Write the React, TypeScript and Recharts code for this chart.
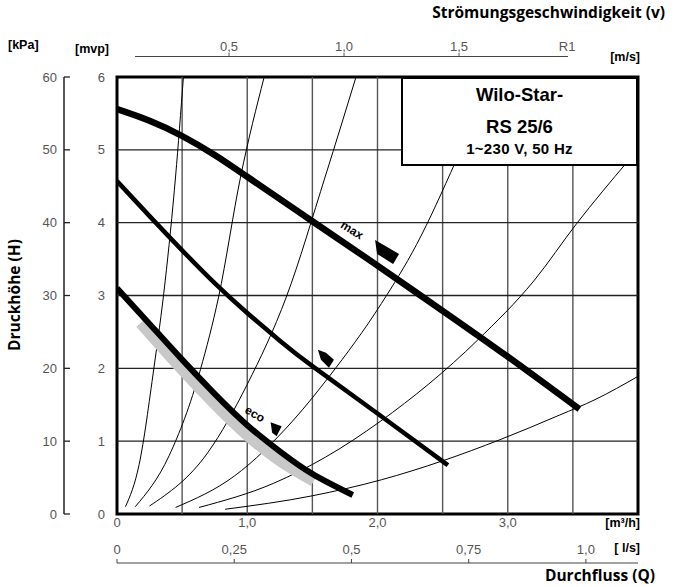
import React from "react";
import { ComposedChart, Line, Scatter, XAxis, YAxis, ReferenceLine, ReferenceArea } from "recharts";

// axes (Q in m³/h, H in mvp)
const Q_TICKS = [0, 1, 2, 3];
const Q_LABELS = ["0", "1,0", "2,0", "3,0"];
const LS_TICKS = [0, 0.25, 0.5, 0.75, 1.0];
const LS_LABELS = ["0", "0,25", "0,5", "0,75", "1,0"];
const V_TICKS = [0.5, 1.0, 1.5, 1.97];
const V_LABELS = ["0,5", "1,0", "1,5", "R1"];
const MVP_TICKS = [0, 1, 2, 3, 4, 5, 6];
const KPA_TICKS = [0, 10, 20, 30, 40, 50, 60];
const GRID_Q = [0.5, 1, 1.5, 2, 2.5, 3, 3.5];
const GRID_H = [1, 2, 3, 4, 5];

// pump curves [Q, H]
const MAX_CURVE = [[0, 5.56], [0.25, 5.4], [0.5, 5.19], [0.75, 4.93], [1.0, 4.63], [1.5, 4.02], [2.0, 3.41], [2.5, 2.79], [3.0, 2.16], [3.55, 1.44]];
const MID_CURVE = [[0, 4.57], [0.25, 4.09], [0.5, 3.62], [0.75, 3.17], [1.0, 2.76], [1.25, 2.38], [1.5, 2.03], [2.0, 1.38], [2.54, 0.67]];
const ECO_CURVE = [[0, 3.1], [0.25, 2.61], [0.5, 2.12], [0.75, 1.65], [1.0, 1.22], [1.25, 0.86], [1.5, 0.55], [1.81, 0.26]];
const ECO_BAND = [[0.18, 2.62], [0.5, 1.98], [0.75, 1.51], [1.0, 1.08], [1.25, 0.73], [1.51, 0.45]];

// system curves [Q, H]
const SYS_A = [[0.065, 0.1], [0.17, 0.68], [0.283, 2.0], [0.37, 3.2], [0.45, 4.64], [0.51, 6.0]];
const SYS_B = [[0.14, 0.1], [0.4, 0.8], [0.64, 1.98], [0.78, 2.98], [0.95, 4.64], [1.13, 6.0]];
const SYS_C = [[0.25, 0.11], [0.7, 0.85], [1.0, 1.78], [1.3, 2.98], [1.6, 4.64], [1.835, 6.0]];
const SYS_D = [[0.45, 0.09], [0.9, 0.52], [1.355, 1.29], [1.63, 1.89], [2.03, 2.89], [2.3, 3.7], [2.6, 4.84]];
const SYS_E = [[0.63, 0.09], [1.2, 0.42], [1.6, 0.78], [2.02, 1.27], [2.77, 2.39], [3.2, 3.2], [3.53, 3.99], [3.92, 4.84]];
const SYS_F = [[0.83, 0.065], [1.5, 0.25], [2.03, 0.47], [2.5, 0.73], [2.94, 1.02], [3.4, 1.36], [3.67, 1.57], [4.0, 1.89]];
const SYSTEM = [SYS_A, SYS_B, SYS_C, SYS_D, SYS_E, SYS_F];

// operating markers
const MARK_Q = [2.066, 1.604, 1.218];
const MARK_H = [3.585, 2.13, 1.17];
const MARK_KIND = ["max", "mid", "eco"];

const pts = (a: number[][]) => a.map(([q, h]) => ({ q, h }));
const markers = MARK_Q.map((q, i) => ({ q, h: MARK_H[i], kind: MARK_KIND[i] }));

const SHAPES: Record<string, number[][]> = {
  max: [[-11, -13], [13, 1], [7, 11], [-9, 1]],
  mid: [[-8, -9], [0, -6], [8, 1], [3, 9], [-5, 1]],
  eco: [[-5, -6.5], [6, -2.5], [1, 7.5], [-3.5, 4]],
};

const tickFont = { fontFamily: "Liberation Sans, Arial, sans-serif", fontSize: 13, fill: "#555" };
const bold = "Liberation Sans, Arial, sans-serif";
const titleFont = "'Open Sans', 'Noto Sans', sans-serif";

function KpaTick({ x, y, payload }: any) {
  return (
    <g>
      <line x1={x} x2={x + 6} y1={y} y2={y} stroke="#222" strokeWidth={1.3} />
      <text x={x - 7} y={y + 4.5} textAnchor="end" {...tickFont}>{payload.value}</text>
    </g>
  );
}

function VTick({ x, y, payload }: any) {
  const i = V_TICKS.indexOf(payload.value);
  return (
    <g>
      {V_LABELS[i] !== "R1" && <line x1={x} x2={x} y1={y - 24} y2={y - 20} stroke="#555" strokeWidth={1} />}
      <text x={x} y={y - 26} textAnchor="middle" {...tickFont}>{V_LABELS[i]}</text>
    </g>
  );
}

function LsTick({ x, y, payload }: any) {
  const i = LS_TICKS.indexOf(payload.value);
  return (
    <g>
      <line x1={x} x2={x} y1={y - 4} y2={y} stroke="#444" strokeWidth={1} />
      <text x={x} y={y - 9} textAnchor="middle" {...tickFont}>{LS_LABELS[i]}</text>
    </g>
  );
}

function Marker({ cx, cy, payload }: any) {
  const p = SHAPES[payload.kind].map(([dx, dy]) => `${cx + dx},${cy + dy}`).join(" ");
  return <polygon points={p} fill="#000" />;
}

const abs = (style: React.CSSProperties): React.CSSProperties => ({ position: "absolute", whiteSpace: "nowrap", lineHeight: 1, ...style });

export default function App() {
  return (
    <div style={{ position: "absolute", left: 0, top: 0, width: 680, height: 587, background: "#fff" }}>
      <ComposedChart width={680} height={587} margin={{ top: 40, right: 42, bottom: 22, left: 24 }}>
        <XAxis xAxisId="ls" dataKey="q" type="number" domain={[0, 4 / 3.6]} allowDataOverflow ticks={LS_TICKS} interval={0}
          height={2} axisLine={{ stroke: "#444", strokeWidth: 1.2 }} tickLine={false} tickSize={0} tickMargin={0} tick={<LsTick />} />
        <XAxis xAxisId="flow" dataKey="q" type="number" domain={[0, 4]} allowDataOverflow ticks={Q_TICKS} interval={0}
          tickFormatter={(v: number) => Q_LABELS[Q_TICKS.indexOf(v)]} height={49} axisLine={false} tickLine={false}
          tickSize={0} tickMargin={4} tick={tickFont} />
        <XAxis xAxisId="v" dataKey="q" orientation="top" type="number" domain={[0.013, 2.278]} allowDataOverflow ticks={V_TICKS} interval={0}
          height={37} axisLine={false} tickLine={false} tickSize={0} tickMargin={0} tick={<VTick />} />
        <YAxis yAxisId="kpa" type="number" domain={[0, 60]} allowDataOverflow ticks={KPA_TICKS} interval={0} width={40}
          axisLine={{ stroke: "#222", strokeWidth: 1.5 }} tickLine={false} tickSize={0} tickMargin={0} tick={<KpaTick />} />
        <YAxis yAxisId="h" type="number" domain={[0, 6]} allowDataOverflow ticks={MVP_TICKS} interval={0} width={53}
          axisLine={false} tickLine={false} tickSize={0} tickMargin={12} tick={tickFont} />

        {GRID_Q.map((v) => (
          <ReferenceLine key={"gq" + v} xAxisId="flow" yAxisId="h" x={v} stroke="#555" strokeWidth={1.4} />
        ))}
        {GRID_H.map((v) => (
          <ReferenceLine key={"gh" + v} xAxisId="flow" yAxisId="h" y={v} stroke="#222" strokeWidth={1.3} />
        ))}

        {SYSTEM.map((s, i) => (
          <Line key={"sys" + i} xAxisId="flow" yAxisId="h" data={pts(s)} dataKey="h" type="monotone"
            stroke="#000" strokeWidth={1} dot={false} isAnimationActive={false} />
        ))}

        <Line xAxisId="flow" yAxisId="h" data={pts(ECO_BAND)} dataKey="h" type="natural" stroke="#c8c8c8" strokeWidth={11} dot={false} isAnimationActive={false} />
        <Line xAxisId="flow" yAxisId="h" data={pts(ECO_CURVE)} dataKey="h" type="natural" stroke="#000" strokeWidth={6} dot={false} isAnimationActive={false} />
        <Line xAxisId="flow" yAxisId="h" data={pts(MID_CURVE)} dataKey="h" type="natural" stroke="#000" strokeWidth={4.5} dot={false} isAnimationActive={false} />
        <Line xAxisId="flow" yAxisId="h" data={pts(MAX_CURVE)} dataKey="h" type="natural" stroke="#000" strokeWidth={6.5} dot={false} isAnimationActive={false} />
        <Scatter xAxisId="flow" yAxisId="h" data={markers} dataKey="h" shape={<Marker />} isAnimationActive={false} />

        <ReferenceArea xAxisId="flow" yAxisId="h" x1={0} x2={4} y1={0} y2={6} fill="none" stroke="#000" strokeWidth={3} ifOverflow="visible" />
      </ComposedChart>

      <div style={abs({ left: 135, top: 56, width: 433, height: 1, background: "#444" })} />

      <div style={abs({ left: 401, top: 77, width: 233, height: 85, background: "#fff", border: "2px solid #000", fontFamily: bold, fontWeight: 700, textAlign: "center" })}>
        <div style={abs({ left: 0, right: 0, top: 7, fontSize: 18.5 })}>Wilo-Star-</div>
        <div style={abs({ left: 0, right: 0, top: 39, fontSize: 18.5 })}>RS 25/6</div>
        <div style={abs({ left: 0, right: 0, top: 61.5, fontSize: 15, letterSpacing: 0.3 })}>1~230 V, 50 Hz</div>
      </div>

      <div style={abs({ right: 15, top: 5, fontFamily: titleFont, fontWeight: 700, fontSize: 15.5 })}>Strömungsgeschwindigkeit (v)</div>
      <div style={abs({ right: 25, top: 568, fontFamily: titleFont, fontWeight: 700, fontSize: 15.5 })}>Durchfluss (Q)</div>
      <div style={abs({ left: 15, top: 295, transform: "translate(-50%, -50%) rotate(-90deg)", fontFamily: titleFont, fontWeight: 700, fontSize: 15.5 })}>Druckhöhe (H)</div>

      <div style={abs({ left: 8, top: 39, fontFamily: bold, fontWeight: 700, fontSize: 12.5 })}>[kPa]</div>
      <div style={abs({ left: 75, top: 43, fontFamily: bold, fontWeight: 700, fontSize: 12.5 })}>[mvp]</div>
      <div style={abs({ right: 40, top: 51, fontFamily: bold, fontWeight: 700, fontSize: 12.5 })}>[m/s]</div>
      <div style={abs({ right: 40, top: 517, fontFamily: bold, fontWeight: 700, fontSize: 12.5 })}>[m³/h]</div>
      <div style={abs({ right: 40, top: 542, fontFamily: bold, fontWeight: 700, fontSize: 12.5 })}>[ l/s]</div>

      <div style={abs({ left: 352, top: 230, transform: "translate(-50%, -50%) rotate(32deg)", fontFamily: bold, fontWeight: 700, fontSize: 12 })}>max</div>
      <div style={abs({ left: 255, top: 414, transform: "translate(-50%, -50%) rotate(30deg)", fontFamily: bold, fontWeight: 700, fontSize: 12 })}>eco</div>
    </div>
  );
}
